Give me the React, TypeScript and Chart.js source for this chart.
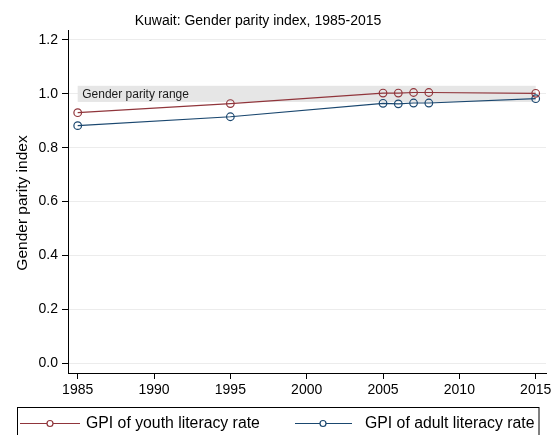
import React, { useEffect, useRef } from "react";
import { Chart, registerables } from "chart.js";

Chart.register(...registerables);

const TITLE = "Kuwait: Gender parity index, 1985-2015";
const Y_TITLE = "Gender parity index";
const BAND_LABEL = "Gender parity range";
const years = [1985, 1995, 2005, 2006, 2007, 2008, 2015];
const youthGPI = [0.93, 0.964, 1.003, 1.003, 1.005, 1.005, 1.002];
const adultGPI = [0.882, 0.915, 0.965, 0.963, 0.966, 0.966, 0.982];
const xTicks = [1985, 1990, 1995, 2000, 2005, 2010, 2015];
const yTicks = [0, 0.2, 0.4, 0.6, 0.8, 1.0, 1.2];
const bandLow = 0.97;
const bandHigh = 1.03;
const bandStart = 1985;
const bandEnd = 2015;
const seriesNames = ["GPI of youth literacy rate", "GPI of adult literacy rate"];

const RED = "#90353b";
const BLUE = "#1a476f";
const FONT = "'Liberation Sans', Arial, sans-serif";

const decor = {
  id: "decor",
  beforeDatasetsDraw(chart: any) {
    const { ctx, scales } = chart;
    const x = scales.x, y = scales.y;
    const x0 = x.getPixelForValue(bandStart);
    const x1 = x.getPixelForValue(bandEnd);
    const y0 = y.getPixelForValue(bandHigh);
    const y1 = y.getPixelForValue(bandLow);
    ctx.save();
    ctx.fillStyle = "#e6e6e6";
    ctx.fillRect(x0, y0, x1 - x0, y1 - y0);
    ctx.fillStyle = "#1a1a1a";
    ctx.font = `12px ${FONT}`;
    ctx.textAlign = "left";
    ctx.textBaseline = "middle";
    ctx.fillText(BAND_LABEL, x0 + 4.5, y.getPixelForValue(1.0) + 0.5);
    ctx.restore();
  },
  afterDraw(chart: any) {
    const { ctx } = chart;
    ctx.save();
    ctx.fillStyle = "#000";
    ctx.font = `14px ${FONT}`;
    ctx.textAlign = "center";
    ctx.textBaseline = "alphabetic";
    ctx.fillText(TITLE, 258, 24.5);
    ctx.save();
    ctx.translate(27, 203);
    ctx.rotate(-Math.PI / 2);
    ctx.font = `15.5px ${FONT}`;
    ctx.textAlign = "center";
    ctx.textBaseline = "alphabetic";
    ctx.fillText(Y_TITLE, 0, 0);
    ctx.restore();
    ctx.strokeStyle = "#000";
    ctx.lineWidth = 1;
    ctx.strokeRect(17.5, 407.5, 521.5, 40);
    const items = [
      { c: RED, l0: 20, l1: 80, m: 50, t: 86, label: seriesNames[0] },
      { c: BLUE, l0: 295, l1: 352, m: 323, t: 365, label: seriesNames[1] },
    ];
    const ly = 423.5;
    for (const it of items) {
      ctx.strokeStyle = it.c;
      ctx.lineWidth = 1.2;
      ctx.beginPath();
      ctx.moveTo(it.l0, ly);
      ctx.lineTo(it.l1, ly);
      ctx.stroke();
      ctx.fillStyle = "#fff";
      ctx.beginPath();
      ctx.arc(it.m, ly, 3, 0, Math.PI * 2);
      ctx.fill();
      ctx.stroke();
      ctx.fillStyle = "#000";
      ctx.font = `15.8px ${FONT}`;
      ctx.textAlign = "left";
      ctx.textBaseline = "middle";
      ctx.fillText(it.label, it.t, ly + 0.5);
    }
    ctx.restore();
  },
};

export default function App() {
  const ref = useRef<HTMLCanvasElement>(null);
  useEffect(() => {
    if (!ref.current) return;
    const chart = new Chart(ref.current, {
      type: "line",
      data: {
        datasets: [
          {
            label: seriesNames[0],
            data: years.map((yr, i) => ({ x: yr, y: youthGPI[i] })),
            borderColor: RED,
            backgroundColor: "transparent",
            pointBackgroundColor: "transparent",
            pointBorderColor: RED,
            pointRadius: 3.8,
            pointBorderWidth: 1.2,
            borderWidth: 1.2,
            tension: 0,
          },
          {
            label: seriesNames[1],
            data: years.map((yr, i) => ({ x: yr, y: adultGPI[i] })),
            borderColor: BLUE,
            backgroundColor: "transparent",
            pointBackgroundColor: "transparent",
            pointBorderColor: BLUE,
            pointRadius: 3.8,
            pointBorderWidth: 1.2,
            borderWidth: 1.2,
            tension: 0,
          },
        ],
      },
      options: {
        responsive: false,
        animation: false,
        layout: { padding: { left: 0, top: 30, right: 13, bottom: 0 } },
        plugins: {
          legend: { display: false },
          title: { display: false },
          tooltip: { enabled: false },
        },
        scales: {
          x: {
            type: "linear",
            min: 1984.365,
            max: 2015.675,
            afterBuildTicks: (s: any) => {
              s.ticks = xTicks.map((v) => ({ value: v }));
            },
            afterFit: (s: any) => {
              s.height = 62;
            },
            ticks: {
              color: "#000",
              font: { family: FONT, size: 14 },
              padding: 3,
              maxRotation: 0,
              autoSkip: false,
              callback: (v: any) => String(v),
            },
            grid: {
              display: true,
              drawOnChartArea: false,
              drawTicks: true,
              tickLength: 6,
              tickColor: "#000",
            },
            border: { display: true, color: "#000", width: 1 },
          },
          y: {
            type: "linear",
            min: -0.036,
            max: 1.237,
            afterBuildTicks: (s: any) => {
              s.ticks = yTicks.map((v) => ({ value: v }));
            },
            afterFit: (s: any) => {
              s.width = 68;
            },
            ticks: {
              color: "#000",
              font: { family: FONT, size: 14 },
              padding: 4,
              autoSkip: false,
              callback: (v: any) => Number(v).toFixed(1),
            },
            grid: {
              display: true,
              drawOnChartArea: true,
              color: "#ececec",
              lineWidth: 1,
              drawTicks: true,
              tickLength: 6,
              tickColor: "#000",
            },
            border: { display: true, color: "#000", width: 1 },
          },
        },
      },
      plugins: [decor],
    });
    return () => chart.destroy();
  }, []);
  return (
    <div style={{ position: "fixed", left: 0, top: 0, width: 559, height: 435, background: "#fff" }}>
      <canvas ref={ref} width={559} height={435} style={{ display: "block" }} />
    </div>
  );
}
